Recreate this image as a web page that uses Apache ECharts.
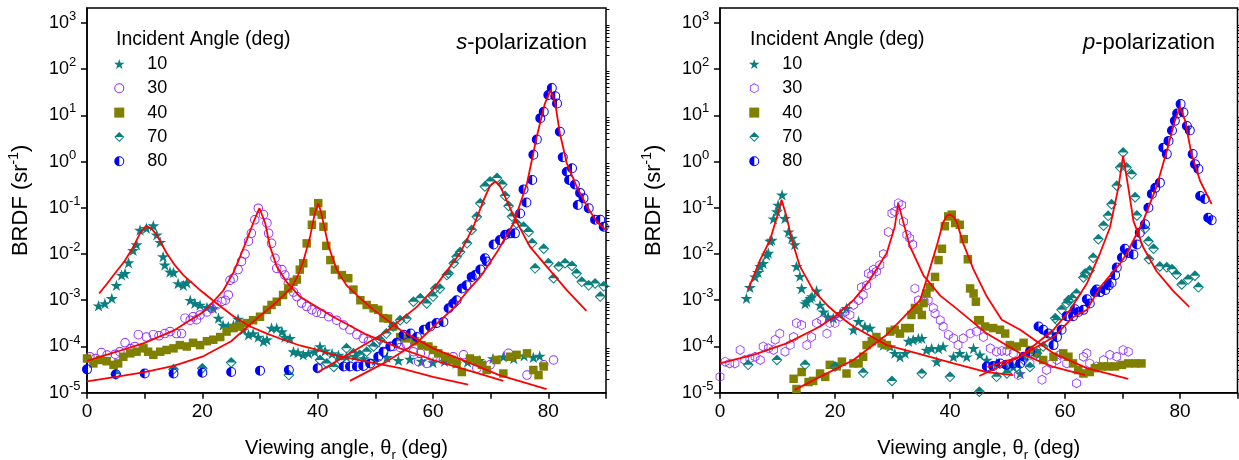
<!DOCTYPE html>
<html><head><meta charset="utf-8">
<script src="https://cdn.jsdelivr.net/npm/echarts@6/dist/echarts.min.js"></script>
<style>html,body{margin:0;padding:0;background:#fff}#c{width:1239px;height:460px}</style>
</head><body><div id="c"></div>
<script>
// ---------------- DATA ----------------
const incidentAngles = ['10', '30', '40', '70', '80'];
const xTickLabels = [0, 20, 40, 60, 80];
const yDecades = [1e-5, 1e-4, 1e-3, 1e-2, 1e-1, 1, 10, 100, 1000];

const s10 = [[2.0,7.6e-4],[3.1,8.5e-4],[4.3,1.1e-3],[5.1,2.1e-3],[6.0,3.5e-3],[6.6,3.8e-3],[7.2,6.5e-3],[8.0,1.2e-2],[8.6,1.6e-2],[9.2,3.3e-2],[10.3,3.6e-2],[11.5,4.1e-2],[12.1,2.6e-2],[12.7,1.8e-2],[13.2,8.8e-3],[13.5,5.8e-3],[14.4,4.1e-3],[15.0,4.0e-3],[15.8,2.3e-3],[16.7,2.1e-3],[17.3,2.4e-3],[17.9,1.0e-3],[18.7,8.6e-4],[19.6,7.9e-4],[20.8,7.0e-4],[21.9,6.7e-4],[22.8,4.1e-4],[23.6,2.9e-4],[24.5,2.7e-4],[25.4,2.9e-4],[26.2,3.9e-4],[27.1,2.3e-4],[28.0,1.8e-4],[28.8,1.9e-4],[29.7,1.6e-4],[30.6,1.3e-4],[31.2,1.4e-4],[32.0,2.5e-4],[32.9,2.5e-4],[33.8,2.1e-4],[34.3,1.6e-4],[35.2,1.5e-4],[35.8,7.7e-5],[36.6,7.4e-5],[37.5,6.6e-5],[38.4,7.1e-5],[39.5,7.7e-5],[40.4,1.0e-4],[41.3,8.0e-5],[42.5,7.0e-5],[43.6,6.5e-5],[45.0,6.0e-5],[46.5,6.2e-5],[48.0,5.5e-5],[50.0,5.0e-5],[52.0,5.8e-5],[54.0,5.0e-5],[56.0,5.3e-5],[58.0,4.8e-5],[60.0,4.5e-5],[62.0,4.8e-5],[64.0,4.3e-5],[66.0,4.6e-5],[68.0,5.0e-5],[70.4,5.5e-5],[72.2,6.0e-5],[74.0,5.5e-5],[75.8,6.3e-5],[77.4,5.8e-5],[78.5,6.2e-5]];
const s30 = [[0.5,6.0e-5],[1.5,5.5e-5],[2.5,7.4e-5],[3.5,6.5e-5],[4.9,6.8e-5],[5.7,7.7e-5],[6.6,1.2e-4],[7.5,9.0e-5],[8.3,1.0e-4],[8.9,1.8e-4],[10.3,1.6e-4],[11.5,1.8e-4],[12.5,1.7e-4],[13.5,1.9e-4],[14.4,2.1e-4],[15.5,1.9e-4],[16.4,1.9e-4],[17.0,4.1e-4],[17.9,3.7e-4],[18.4,4.4e-4],[19.0,3.8e-4],[19.6,4.8e-4],[20.8,5.6e-4],[21.6,6.7e-4],[22.5,7.9e-4],[23.4,9.4e-4],[24.0,1.0e-3],[24.5,1.3e-3],[24.8,2.7e-3],[25.4,3.0e-3],[26.2,4.6e-3],[26.8,6.9e-3],[27.4,1.0e-2],[28.0,1.9e-2],[28.5,2.8e-2],[29.1,5.5e-2],[29.7,9.8e-2],[30.6,7.1e-2],[31.2,4.7e-2],[31.5,2.8e-2],[32.0,1.7e-2],[32.6,8.1e-3],[32.9,4.9e-3],[33.8,4.6e-3],[34.3,3.5e-3],[34.9,2.3e-3],[35.8,1.5e-3],[36.4,1.2e-3],[37.2,8.7e-4],[38.1,7.3e-4],[39.0,6.2e-4],[39.8,5.5e-4],[40.7,5.2e-4],[41.9,4.4e-4],[43.3,3.7e-4],[44.5,2.9e-4],[45.6,2.3e-4],[46.8,1.8e-4],[47.9,1.5e-4],[48.8,1.3e-4],[50.2,1.2e-4],[51.4,1.1e-4],[53.1,1.0e-4],[54.3,9.5e-5],[55.4,1.1e-4],[56.6,7.7e-5],[57.5,4.7e-5],[57.8,7.1e-5],[58.9,4.3e-5],[60.0,6.0e-5],[61.8,5.1e-5],[63.5,6.0e-5],[65.3,6.6e-5],[67.6,3.4e-5],[69.9,4.0e-5],[73.1,7.1e-5],[76.3,2.4e-5],[79.2,4.0e-5],[80.9,5.1e-5]];
const s40 = [[0,5.5e-5],[1.1,4.3e-5],[2.3,5.1e-5],[3.4,4.8e-5],[4.6,4.0e-5],[5.4,4.3e-5],[6.3,6.0e-5],[7.5,7.1e-5],[8.6,7.7e-5],[9.8,9.1e-5],[10.6,7.7e-5],[11.5,6.6e-5],[12.7,7.7e-5],[13.8,8.4e-5],[15.0,9.1e-5],[16.1,1.07e-4],[17.3,1.0e-4],[18.4,1.2e-4],[19.6,1.07e-4],[20.8,1.3e-4],[21.9,1.4e-4],[23.1,1.6e-4],[24.2,2.1e-4],[25.4,2.5e-4],[26.5,2.7e-4],[27.7,3.2e-4],[28.8,3.7e-4],[30.0,4.4e-4],[31.2,6.2e-4],[32.0,7.9e-4],[32.9,9.3e-4],[34.0,1.3e-3],[34.9,1.8e-3],[35.8,2.5e-3],[36.4,2.8e-3],[36.9,4.6e-3],[37.5,6.3e-3],[38.1,1.7e-2],[39.0,4.3e-2],[39.3,8.3e-2],[40.1,0.126],[40.7,7.1e-2],[41.0,3.9e-2],[41.5,1.5e-2],[42.2,7.4e-3],[43.0,4.6e-3],[44.2,3.5e-3],[45.3,3.0e-3],[46.2,1.7e-3],[47.4,1.0e-3],[48.5,7.9e-4],[49.7,6.7e-4],[50.5,6.2e-4],[51.4,4.1e-4],[52.2,4.0e-4],[53.1,2.7e-4],[54.3,1.6e-4],[55.4,1.5e-4],[56.9,1.3e-4],[58.0,1.07e-4],[59.2,1.0e-4],[60.0,8.4e-5],[60.9,7.1e-5],[62.1,6.0e-5],[63.2,5.1e-5],[64.1,4.3e-5],[65.0,2.8e-5],[66.4,5.5e-5],[67.6,5.0e-5],[68.5,4.0e-5],[69.3,3.1e-5],[71.0,5.1e-5],[72.2,2.6e-5],[73.4,6.0e-5],[74.5,6.6e-5],[76.3,7.1e-5],[77.4,3.1e-5],[78.3,2.4e-5],[79.2,3.7e-5]];
const s70 = [[5,2.5e-5],[15,3.2e-5],[20,3.4e-5],[25,4.5e-5],[35,2.4e-5],[40.4,5.1e-5],[41.6,4.3e-5],[42.8,3.6e-5],[43.9,5.1e-5],[45.0,9.1e-5],[46.2,7.1e-5],[47.3,6.6e-5],[48.5,7.7e-5],[49.7,1.0e-4],[50.8,1.4e-4],[51.9,1.9e-4],[53.1,2.7e-4],[54.3,3.7e-4],[55.4,4.0e-4],[56.6,9.3e-4],[57.8,1.1e-3],[58.9,8.5e-4],[60.0,1.2e-3],[60.4,1.8e-3],[61.2,1.8e-3],[62.4,3.5e-3],[62.7,3.8e-3],[63.6,6.3e-3],[64.1,8.7e-3],[64.7,1.1e-2],[65.9,1.7e-2],[66.7,3.3e-2],[67.6,6.4e-2],[68.2,0.126],[69.0,0.29],[69.9,0.37],[71.1,0.44],[72.0,0.32],[72.5,0.18],[73.1,0.11],[73.7,6.5e-2],[74.5,4.6e-2],[75.7,3.9e-2],[76.6,3.0e-2],[77.2,1.7e-2],[77.7,4.9e-3],[79.2,1.3e-2],[80.0,6.3e-3],[80.9,3.0e-3],[81.8,5.4e-3],[82.9,6.3e-3],[84.1,5.5e-3],[84.9,3.8e-3],[85.8,2.5e-3],[87.0,2.1e-3],[88.1,2.3e-3],[89.0,1.2e-3],[89.6,2.0e-3]];
const s80 = [[0,3.2e-5],[5,2.5e-5],[10,2.6e-5],[15,2.6e-5],[20,2.7e-5],[25,2.8e-5],[30,3.0e-5],[35,3.1e-5],[40,3.4e-5],[44.5,3.7e-5],[45.6,3.7e-5],[46.8,3.7e-5],[47.9,3.8e-5],[49.1,4.3e-5],[50.5,6.0e-5],[51.4,7.7e-5],[52.6,1.0e-4],[53.7,1.2e-4],[54.9,1.8e-4],[56.1,1.9e-4],[57.2,1.6e-4],[58.4,2.3e-4],[59.5,2.7e-4],[60.6,3.2e-4],[61.8,3.4e-4],[62.7,6.7e-4],[63.5,8.5e-4],[64.1,1.0e-3],[65.0,1.8e-3],[65.8,2.1e-3],[66.7,3.2e-3],[67.3,3.5e-3],[68.2,4.6e-3],[69.0,8.1e-3],[69.3,6.9e-3],[70.5,1.6e-2],[71.6,2.0e-2],[72.5,2.6e-2],[73.4,2.8e-2],[74.2,2.8e-2],[75.1,7.5e-2],[75.7,0.25],[76.2,0.13],[77.2,0.40],[77.4,1.4],[78.0,3.0],[78.6,8.7],[79.2,12],[80.0,27.6],[80.6,39],[81.2,26],[81.5,18],[82.0,4.4],[82.5,1.24],[83.2,0.60],[83.6,0.40],[84.1,0.72],[84.6,0.32],[85.1,0.115],[85.5,0.21],[86.1,0.16],[87.0,9.8e-2],[88.1,5.5e-2],[89.0,5.5e-2],[89.6,3.9e-2]];

const sFit10 = [[2.1,1.4e-3],[3.5,2.3e-3],[5.1,4.2e-3],[6.5,7.0e-3],[8.0,1.4e-2],[9.2,2.8e-2],[10.3,4.1e-2],[11.3,3.4e-2],[12.1,2.6e-2],[13.8,1.05e-2],[15.2,5.8e-3],[16.7,3.5e-3],[19.6,1.66e-3],[22.5,8.5e-4],[25.4,4.5e-4],[28.3,2.7e-4],[31.2,1.9e-4],[34.0,1.4e-4],[36.9,1.05e-4],[39.8,8.5e-5],[42.7,6.6e-5],[48.5,4.7e-5],[54.3,3.4e-5],[60.0,2.2e-5],[66.1,1.5e-5]];
const sFit30 = [[0,4.9e-5],[5,7.6e-5],[10,1.2e-4],[15,2.2e-4],[18,3.8e-4],[20,5.4e-4],[21.6,8.5e-4],[23.6,1.6e-3],[25.4,4.0e-3],[26.5,8.5e-3],[27.7,2.0e-2],[28.9,5.0e-2],[29.9,9.8e-2],[30.9,4.7e-2],[31.7,1.5e-2],[32.9,5.4e-3],[34.6,2.5e-3],[36.9,1.2e-3],[39.3,7.9e-4],[42.5,4.5e-4],[45.6,2.8e-4],[48.5,1.8e-4],[54.3,9.1e-5],[60.0,5.1e-5],[65.8,3.1e-5],[72.2,1.8e-5]];
const sFit40 = [[0,1.75e-5],[5,2.2e-5],[10,2.8e-5],[15,3.8e-5],[20,6.0e-5],[25,1.3e-4],[28,2.8e-4],[30,4.6e-4],[32.3,7.9e-4],[34,1.25e-3],[35.5,1.9e-3],[36.6,3.5e-3],[37.5,6.9e-3],[38.7,2.4e-2],[39.5,7.6e-2],[40.1,0.126],[40.6,8.0e-2],[41.0,4.7e-2],[41.9,1.45e-2],[43.3,4.6e-3],[45.0,2.1e-3],[47.4,1.1e-3],[49.7,6.2e-4],[54.3,2.3e-4],[60.0,9.1e-5],[65.8,4.7e-5],[71.5,2.4e-5],[79.7,1.2e-5]];
const sFit70 = [[40.1,2.8e-5],[45.6,7.1e-5],[51.4,1.9e-4],[57.2,7.2e-4],[60.0,1.7e-3],[63.0,5.4e-3],[64.7,1.05e-2],[67.0,3.9e-2],[68.8,0.148],[69.9,0.30],[70.8,0.37],[71.6,0.30],[72.2,0.21],[74.0,6.5e-2],[76.8,1.45e-2],[79.7,5.4e-3],[83.2,1.66e-3],[86.6,5.9e-4]];
const sFit80 = [[45.6,1.8e-5],[51.4,4.3e-5],[57.2,1.2e-4],[60.5,3.0e-4],[63.6,6.8e-4],[66.0,1.6e-3],[68.2,3.2e-3],[71.1,1.1e-2],[74.0,4.7e-2],[76.3,0.34],[78.0,3.5],[79.4,18],[80.4,35],[81.2,18],[82.0,4.1],[83.2,0.92],[84.9,0.29],[86.7,0.107],[88.4,5.0e-2],[90,3.3e-2]];

const p10 = [[4.6,1.1e-3],[5.2,1.9e-3],[6.1,3.2e-3],[6.6,4.0e-3],[7.0,5.4e-3],[7.5,6.3e-3],[8.1,9.5e-3],[8.4,1.05e-2],[8.7,1.9e-2],[9.0,2.0e-2],[9.3,5.8e-2],[9.9,8.3e-2],[10.1,0.115],[10.8,0.19],[11.3,5.9e-2],[11.9,3.0e-2],[12.5,2.2e-2],[13.0,1.6e-2],[13.3,5.4e-3],[13.9,3.3e-3],[14.2,1.8e-3],[14.8,8.5e-4],[15.1,9.3e-4],[15.7,1.1e-3],[16.0,1.2e-3],[16.8,1.6e-3],[17.4,7.9e-4],[18.0,5.6e-4],[18.8,4.4e-4],[19.7,4.1e-4],[20.9,5.2e-4],[22.0,6.7e-4],[23.2,2.3e-4],[24.1,3.5e-4],[25.2,2.7e-4],[26.1,2.5e-4],[27.2,1.5e-4],[28.4,1.07e-4],[29.6,1.0e-4],[30.4,7.1e-5],[31.3,6.0e-5],[32.2,7.1e-5],[32.8,1.3e-4],[33.6,1.4e-4],[34.5,1.5e-4],[35.1,1.5e-4],[35.9,8.4e-5],[36.8,9.1e-5],[37.7,4.7e-5],[38.0,9.0e-5],[38.8,1.0e-4],[40.6,6.0e-5],[41.7,7.1e-5],[42.9,6.0e-5],[44.1,9.1e-5],[45.2,6.6e-5],[46.4,5.1e-5],[48.1,4.3e-5],[49.9,3.4e-5],[51.0,3.6e-5],[52.2,2.6e-5]];
const p30 = [[0,2.2e-5],[0.9,4.7e-5],[1.7,4.3e-5],[2.6,4.3e-5],[3.5,8.4e-5],[4.3,5.1e-5],[5.2,5.5e-5],[6.1,6.0e-5],[7.0,5.1e-5],[7.5,1.0e-4],[8.4,9.1e-5],[9.3,8.4e-5],[9.6,1.4e-4],[10.4,1.9e-4],[11.3,7.7e-5],[12.2,1.07e-4],[12.8,1.6e-4],[13.3,3.2e-4],[14.2,2.9e-4],[15.1,1.07e-4],[15.9,1.6e-4],[16.8,3.2e-4],[17.7,3.7e-4],[18.6,1.9e-4],[19.1,3.2e-4],[20.0,3.2e-4],[20.9,4.4e-4],[21.7,5.6e-4],[22.6,4.8e-4],[23.2,7.9e-4],[24.1,1.0e-3],[24.6,1.9e-3],[24.9,1.3e-3],[25.5,2.1e-3],[25.8,3.8e-3],[26.4,3.5e-3],[26.7,4.6e-3],[27.2,4.2e-3],[27.8,5.8e-3],[28.4,1.0e-2],[29.3,3.0e-2],[29.9,7.6e-2],[30.4,8.3e-2],[31.0,0.126],[31.6,0.115],[31.9,5.0e-2],[32.5,2.6e-2],[33.0,2.2e-2],[33.5,1.6e-2],[33.9,1.8e-3],[34.5,1.0e-3],[35.5,9.5e-4],[36.2,1.0e-3],[37.1,6.8e-4],[37.4,5.2e-4],[38.3,3.7e-4],[38.8,2.7e-4],[39.7,1.8e-4],[40.6,1.5e-4],[41.4,1.07e-4],[42.3,1.5e-4],[43.5,1.9e-4],[44.6,2.1e-4],[45.8,1.6e-4],[47.0,9.1e-5],[48.1,7.7e-5],[49.0,8.0e-5],[49.9,8.0e-5],[51.0,7.1e-5],[51.9,2.4e-5],[53.9,4.3e-5],[54.8,6.6e-5],[56.0,1.9e-5],[56.8,3.1e-5],[57.7,4.3e-5],[58.6,5.1e-5],[59.1,6.6e-5],[60.3,4.3e-5],[62.0,1.6e-5],[63.2,6.0e-5],[63.8,7.1e-5],[64.3,4.3e-5],[65.5,3.7e-5],[66.7,5.1e-5],[67.8,6.6e-5],[69.0,6.0e-5],[70.1,8.4e-5],[71.0,7.7e-5]];
const p40 = [[12.8,2.0e-5],[13.3,1.2e-5],[14.2,2.8e-5],[15.4,1.7e-5],[16.2,1.8e-5],[17.4,2.6e-5],[18.3,2.2e-5],[19.1,4.0e-5],[20.3,3.7e-5],[21.2,4.7e-5],[22.0,2.6e-5],[23.2,4.3e-5],[24.1,4.3e-5],[24.9,6.0e-5],[25.5,1.07e-4],[26.4,1.3e-4],[27.2,1.6e-4],[28.1,1.17e-4],[29.0,1.07e-4],[29.6,2.1e-4],[30.4,2.3e-4],[31.3,1.9e-4],[32.2,2.5e-4],[33.0,2.5e-4],[33.3,4.8e-4],[33.9,6.8e-4],[34.5,6.2e-4],[35.1,4.8e-4],[35.4,8.7e-4],[35.9,1.4e-3],[36.5,1.9e-3],[37.4,3.2e-3],[38.0,7.4e-3],[38.6,1.3e-2],[39.1,4.0e-2],[39.7,6.5e-2],[40.3,7.1e-2],[40.9,4.7e-2],[41.7,4.3e-2],[42.4,2.1e-2],[43.1,7.7e-3],[43.5,1.8e-3],[44.1,1.4e-3],[44.5,9.3e-4],[44.9,3.7e-4],[45.2,3.7e-4],[46.1,2.7e-4],[47.5,2.5e-4],[48.7,2.3e-4],[49.6,1.9e-4],[50.4,1.07e-4],[51.6,1.0e-4],[52.8,1.2e-4],[53.9,8.4e-5],[55.1,7.1e-5],[56.2,5.1e-5],[58.0,6.0e-5],[59.7,7.1e-5],[60.6,6.0e-5],[61.4,4.3e-5],[62.3,3.1e-5],[63.2,2.6e-5],[64.3,2.8e-5],[65.2,3.4e-5],[66.4,3.7e-5],[67.5,3.7e-5],[68.7,3.7e-5],[69.9,4.0e-5],[71.0,4.3e-5],[72.2,4.3e-5],[73.3,4.3e-5]];
const p70 = [[4.9,4.0e-5],[9.9,5.1e-5],[14.8,4.0e-5],[20.0,3.7e-5],[24.9,2.7e-5],[29.9,1.8e-5],[35.1,2.6e-5],[40.0,2.2e-5],[45.1,1.05e-5],[48.1,2.2e-5],[49.9,2.6e-5],[51.6,3.6e-5],[52.8,5.1e-5],[53.9,3.6e-5],[55.1,7.1e-5],[56.2,1.0e-4],[57.7,1.8e-4],[58.3,4.1e-4],[58.6,3.7e-4],[59.4,6.2e-4],[60.3,8.5e-4],[60.6,1.0e-3],[61.2,1.1e-3],[62.0,1.4e-3],[63.2,3.1e-3],[63.5,3.8e-3],[64.3,4.4e-3],[64.9,8.3e-3],[65.8,2.1e-2],[66.7,4.1e-2],[67.5,6.7e-2],[68.1,0.12],[69.0,0.30],[69.6,0.74],[70.1,1.57],[70.7,0.74],[71.6,0.53],[72.2,0.17],[72.5,6.8e-2],[73.9,3.5e-2],[74.5,1.9e-2],[74.6,7.7e-3],[75.4,1.3e-2],[76.5,5.4e-3],[77.7,5.2e-3],[78.6,4.7e-3],[79.4,3.6e-3],[80.3,2.2e-3],[81.4,2.8e-3],[82.6,3.4e-3],[83.2,1.9e-3]];
const p80 = [[46.4,3.7e-5],[47.5,3.8e-5],[48.7,4.3e-5],[49.8,4.0e-5],[51.0,4.3e-5],[52.2,4.3e-5],[52.8,6.0e-5],[53.9,7.7e-5],[55.4,2.7e-4],[56.2,2.3e-4],[57.1,1.9e-4],[58.0,1.07e-4],[58.6,1.6e-4],[59.4,2.3e-4],[60.3,4.5e-4],[61.4,4.5e-4],[61.7,6.4e-4],[62.3,5.6e-4],[63.2,6.2e-4],[63.8,1.05e-3],[64.3,8.5e-4],[65.2,1.5e-3],[65.5,1.7e-3],[66.1,1.5e-3],[67.0,1.66e-3],[67.6,2.1e-3],[68.1,2.4e-3],[68.7,3.5e-3],[69.0,5.1e-3],[69.9,8.4e-3],[70.4,1.3e-2],[71.0,1.05e-2],[71.9,9.8e-3],[72.5,1.6e-2],[73.0,2.9e-2],[73.9,4.4e-2],[74.5,0.10],[75.1,0.20],[75.7,0.27],[76.5,0.35],[77.1,2.0],[77.7,1.45],[78.0,2.8],[78.6,4.7],[79.1,7.6],[79.5,11],[80.1,17.5],[80.6,11.5],[81.2,5.9],[81.7,4.7],[82.2,1.45],[82.6,0.88],[83.2,0.69],[83.5,0.18],[84.3,0.155],[84.9,6.1e-2],[85.5,5.4e-2]];

const pFit10 = [[4.9,1.7e-3],[7.0,7.6e-3],[8.7,2.0e-2],[9.9,6.3e-2],[10.7,0.15],[11.6,6.3e-2],[12.5,2.0e-2],[13.9,5.4e-3],[16.2,1.66e-3],[18.6,7.9e-4],[20.9,4.4e-4],[23.2,2.7e-4],[29.0,1.07e-4],[34.8,6.8e-5],[40.6,4.3e-5],[46.4,2.8e-5],[51.0,2.4e-5]];
const pFit30 = [[0,4.3e-5],[5.8,6.6e-5],[11.6,1.17e-4],[17.4,2.7e-4],[20.3,4.8e-4],[23.2,1.0e-3],[26.1,2.8e-3],[29.0,1.05e-2],[30.4,3.9e-2],[31.0,0.126],[31.9,4.8e-2],[33.0,1.5e-2],[35.4,3.4e-3],[38.3,1.26e-3],[41.2,6.5e-4],[46.4,1.9e-4],[52.2,7.1e-5],[58.0,3.6e-5],[63.5,2.4e-5]];
const pFit40 = [[13.0,1.15e-5],[17.4,2.2e-5],[23.2,5.1e-5],[29.0,1.8e-4],[34.8,1.0e-3],[36.0,3.0e-3],[37.7,1.5e-2],[38.8,4.8e-2],[39.5,6.8e-2],[40.0,7.1e-2],[40.6,6.5e-2],[41.2,4.8e-2],[42.3,1.7e-2],[44.1,4.6e-3],[46.4,1.2e-3],[49.0,3.8e-4],[52.2,2.3e-4],[58.0,7.1e-5],[63.8,3.4e-5],[71.0,2.0e-5]];
const pFit70 = [[45.1,2.3e-5],[52.2,6.0e-5],[58.0,2.3e-4],[60.9,6.2e-4],[63.8,2.3e-3],[66.1,1.05e-2],[67.8,3.7e-2],[69.3,0.28],[70.1,1.35],[71.0,0.28],[71.9,5.2e-2],[73.6,1.4e-2],[75.9,4.3e-3],[78.8,1.6e-3],[81.6,7.2e-4]];
const pFit80 = [[46.5,3.6e-5],[52.2,6.0e-5],[58.0,1.6e-4],[61.4,4.3e-4],[63.8,6.2e-4],[66.1,1.9e-3],[69.6,6.3e-3],[70.7,1.0e-2],[73.6,5.2e-2],[75.9,0.28],[77.7,1.7],[79.1,7.6],[80.0,15.5],[80.9,7.6],[82.0,1.45],[83.5,0.38],[85.5,0.12]];

// ---------------- STYLE ----------------
const FONT = "'Liberation Sans', Arial, Helvetica, sans-serif";
const TEAL = '#0a7f7f', PURPLE = '#8f2bff', OLIVE = '#808000', BLUE = '#0000ff', RED = '#ff0000';
const SYM_STAR = 'path://M0,-10L2.245,-3.09L9.511,-3.09L3.633,1.18L5.878,8.09L0,3.82L-5.878,8.09L-3.633,1.18L-9.511,-3.09L-2.245,-3.09Z';
const SYM_OCIRC = 'path://M0,-10A10,10 0 1,1 0,10A10,10 0 1,1 0,-10ZM0,-8A8,8 0 1,0 0,8A8,8 0 1,0 0,-8Z';
const SYM_OHEX = 'path://M0,-10L8.66,-5L8.66,5L0,10L-8.66,5L-8.66,-5ZM0,-8.2L-7.1,-4.1L-7.1,4.1L0,8.2L7.1,4.1L7.1,-4.1Z';
const SYM_SQ = 'path://M-10,-10L10,-10L10,10L-10,10Z';
const SYM_HDIA = 'path://M0,-10L10,0L0,10L-10,0ZM0,-7.4L-7.4,0L0,7.4L7.4,0ZM0,-7.4L7.4,0L-7.4,0Z';
const SYM_HCIRC = 'path://M0,-10A10,10 0 1,1 0,10A10,10 0 1,1 0,-10ZM0,-8A8,8 0 1,0 0,8A8,8 0 1,0 0,-8ZM0,-8A8,8 0 0,0 0,8Z';

const yMinor = [];
yDecades.forEach(d => { for (let k = 2; k <= 9; k++) { if (d * k <= 2100) yMinor.push(d * k); } });

function yLab(v) {
  const e = Math.round(Math.log10(v));
  return '{b|10}{s|' + (e < 0 ? '-' + (-e) : e) + '}';
}
const yRich = {
  b: { fontSize: 18, lineHeight: 26, fontFamily: FONT, color: '#000' },
  s: { fontSize: 13, lineHeight: 13, verticalAlign: 'top', fontFamily: FONT, color: '#000' }
};

function makeX(gi) {
  return {
    gridIndex: gi, type: 'value', min: 0, max: 90, interval: 10,
    axisLine: { show: true, lineStyle: { color: '#000', width: 1.5 } },
    axisTick: { show: true, inside: false, length: 6, lineStyle: { color: '#000', width: 1.5 } },
    axisLabel: { margin: 10, fontSize: 19, color: '#000', fontFamily: FONT,
      formatter: v => (xTickLabels.indexOf(v) >= 0 ? String(v) : '') },
    splitLine: { show: false },
    name: 'Viewing angle, \u03b8{r|r} (deg)', nameLocation: 'middle', nameGap: 43, nameMoveOverlap: false,
    nameTextStyle: { fontSize: 20, color: '#000', fontFamily: FONT, lineHeight: 26,
      rich: { r: { fontSize: 13, lineHeight: 13, verticalAlign: 'bottom', fontFamily: FONT, color: '#000' } } }
  };
}
function makeY(gi) {
  return {
    gridIndex: gi, type: 'log', logBase: 10, min: 1e-5, max: 2100,
    axisLine: { show: true, lineStyle: { color: '#000', width: 1.5 } },
    axisTick: { show: true, inside: false, length: 6, lineStyle: { color: '#000', width: 1.5 }, customValues: yDecades },
    axisLabel: { customValues: yDecades, formatter: yLab, rich: yRich, align: 'left', margin: 38 },
    splitLine: { show: false }, minorTick: { show: false },
    name: 'BRDF (sr{s|-1})', nameLocation: 'middle', nameGap: 52, nameMoveOverlap: false,
    nameTextStyle: { fontSize: 22, color: '#000', fontFamily: FONT, lineHeight: 28,
      rich: { s: { fontSize: 14, lineHeight: 14, verticalAlign: 'top', fontFamily: FONT, color: '#000' } } }
  };
}
function makeYMinor(gi) {
  return {
    gridIndex: gi, type: 'log', logBase: 10, min: 1e-5, max: 2100,
    axisLine: { show: false },
    axisTick: { show: true, inside: false, length: 3.5, lineStyle: { color: '#000', width: 1 }, customValues: yMinor },
    axisLabel: { show: false }, splitLine: { show: false }
  };
}

function scat(name, data, sym, color, size, xi, yi) {
  return { type: 'scatter', name, data, symbol: sym, symbolSize: size, symbolKeepAspect: true,
    itemStyle: { color, opacity: 1 }, xAxisIndex: xi, yAxisIndex: yi, z: 2, clip: true,
    emphasis: { disabled: true }, silent: true };
}
function fit(data, xi, yi) {
  return { type: 'line', data, showSymbol: false, symbol: 'none', clip: true,
    lineStyle: { color: RED, width: 1.8 }, xAxisIndex: xi, yAxisIndex: yi, z: 3, silent: true };
}

const sNames = incidentAngles.map(a => 's-' + a);
const pNames = incidentAngles.map(a => 'p-' + a);

const legendBase = {
  orient: 'vertical', itemWidth: 46, itemHeight: 10, itemGap: 4.3, selectedMode: false,
  formatter: n => n.slice(2), padding: 0,
  textStyle: { fontSize: 18, color: '#000', fontFamily: FONT, lineHeight: 20 }
};

const gridBase = { show: true, borderColor: '#000', borderWidth: 1.5, backgroundColor: 'transparent', containLabel: false, outerBoundsMode: 'none' };

const option = {
  backgroundColor: '#fff',
  animation: false,
  grid: [
    Object.assign({ left: 87, top: 8, width: 519, height: 384.7 }, gridBase),
    Object.assign({ left: 720, top: 8, width: 517.5, height: 384.7 }, gridBase)
  ],
  title: [
    { text: 'Incident Angle (deg)', left: 116, top: 30, padding: 0,
      textStyle: { fontSize: 19.5, fontWeight: 'normal', color: '#000', fontFamily: FONT } },
    { text: 'Incident Angle (deg)', left: 750, top: 30, padding: 0,
      textStyle: { fontSize: 19.5, fontWeight: 'normal', color: '#000', fontFamily: FONT } },
    { text: '{i|s}-polarization', right: 652, top: 32, padding: 0,
      textStyle: { fontSize: 22, fontWeight: 'normal', color: '#000', fontFamily: FONT,
        rich: { i: { fontSize: 22, fontStyle: 'italic', color: '#000', fontFamily: FONT } } } },
    { text: '{i|p}-polarization', right: 24, top: 32, padding: 0,
      textStyle: { fontSize: 22, fontWeight: 'normal', color: '#000', fontFamily: FONT,
        rich: { i: { fontSize: 22, fontStyle: 'italic', color: '#000', fontFamily: FONT } } } }
  ],
  legend: [
    Object.assign({}, legendBase, { data: sNames, left: 114, top: 54 }),
    Object.assign({}, legendBase, { data: pNames, left: 749, top: 54 })
  ],
  xAxis: [makeX(0), makeX(1)],
  yAxis: [makeY(0), makeYMinor(0), makeY(1), makeYMinor(1)],
  series: [
    scat(sNames[0], s10, SYM_STAR, TEAL, 12, 0, 0),
    scat(sNames[1], s30, SYM_OCIRC, PURPLE, 9.5, 0, 0),
    scat(sNames[2], s40, SYM_SQ, OLIVE, 8.5, 0, 0),
    scat(sNames[3], s70, SYM_HDIA, TEAL, 11, 0, 0),
    scat(sNames[4], s80, SYM_HCIRC, BLUE, 10, 0, 0),
    fit(sFit10, 0, 0), fit(sFit30, 0, 0), fit(sFit40, 0, 0), fit(sFit70, 0, 0), fit(sFit80, 0, 0),
    scat(pNames[0], p10, SYM_STAR, TEAL, 12, 1, 2),
    scat(pNames[1], p30, SYM_OHEX, PURPLE, 10, 1, 2),
    scat(pNames[2], p40, SYM_SQ, OLIVE, 8.5, 1, 2),
    scat(pNames[3], p70, SYM_HDIA, TEAL, 11, 1, 2),
    scat(pNames[4], p80, SYM_HCIRC, BLUE, 10, 1, 2),
    fit(pFit10, 1, 2), fit(pFit30, 1, 2), fit(pFit40, 1, 2), fit(pFit70, 1, 2), fit(pFit80, 1, 2)
  ]
};

const chart = echarts.init(document.getElementById('c'), null, { renderer: 'canvas' });
chart.setOption(option);
</script></body></html>
